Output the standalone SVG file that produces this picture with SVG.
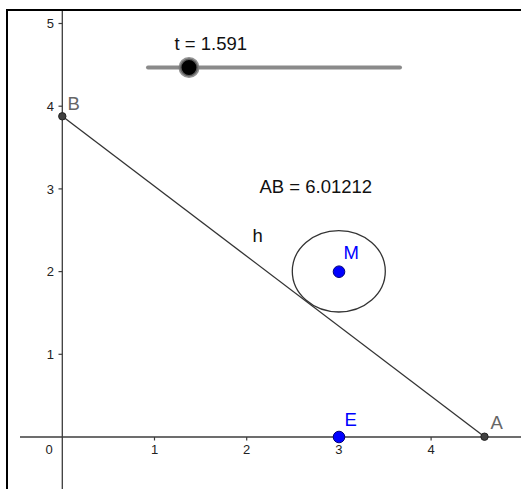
<svg xmlns="http://www.w3.org/2000/svg" width="521" height="489" viewBox="0 0 521 489">
<style>
.ax{stroke:#3c3c3c;stroke-width:1.3;fill:none}
.tk{stroke:#3c3c3c;stroke-width:1.2}
.num{font-family:"Liberation Sans",Arial,sans-serif;font-size:13px;fill:#222}
.lbl{font-family:"Liberation Sans",Arial,sans-serif;font-size:18.5px}
.gray{fill:#666}
.blue{fill:#0000ff}
.blk{fill:#111}
.pt{fill:#404040;stroke:#222;stroke-width:1}
.bpt{fill:#0000ff;stroke:#00007a;stroke-width:1}
.obj{stroke:#333;stroke-width:1.3;fill:none}
</style>
<rect x="0" y="0" width="521" height="489" fill="#ffffff"/>
<g id="frame">
<rect x="6" y="9" width="515" height="2" fill="#000"/>
<rect x="6" y="9" width="2" height="480" fill="#000"/>
</g>
<g id="axes">
<line class="ax" x1="20" y1="437" x2="521" y2="437"/>
<line class="ax" x1="62.3" y1="11" x2="62.3" y2="489"/>
<line class="tk" x1="154.5" y1="437" x2="154.5" y2="440.5"/>
<line class="tk" x1="246.7" y1="437" x2="246.7" y2="440.5"/>
<line class="tk" x1="338.9" y1="437" x2="338.9" y2="440.5"/>
<line class="tk" x1="431.1" y1="437" x2="431.1" y2="440.5"/>
<line class="tk" x1="58.5" y1="354.3" x2="62.3" y2="354.3"/>
<line class="tk" x1="58.5" y1="271.6" x2="62.3" y2="271.6"/>
<line class="tk" x1="58.5" y1="188.9" x2="62.3" y2="188.9"/>
<line class="tk" x1="58.5" y1="106.2" x2="62.3" y2="106.2"/>
<line class="tk" x1="58.5" y1="23.5" x2="62.3" y2="23.5"/>
<text class="num" x="49" y="454" text-anchor="middle">0</text>
<text class="num" x="154.5" y="454" text-anchor="middle">1</text>
<text class="num" x="246.7" y="454" text-anchor="middle">2</text>
<text class="num" x="338.9" y="454" text-anchor="middle">3</text>
<text class="num" x="431.1" y="454" text-anchor="middle">4</text>
<text class="num" x="54" y="359" text-anchor="end">1</text>
<text class="num" x="54" y="276.3" text-anchor="end">2</text>
<text class="num" x="54" y="193.6" text-anchor="end">3</text>
<text class="num" x="54" y="110.9" text-anchor="end">4</text>
<text class="num" x="54" y="28.2" text-anchor="end">5</text>
</g>
<g id="slider">
<line x1="148" y1="67.5" x2="400" y2="67.5" stroke="#8a8a8a" stroke-width="4" stroke-linecap="round"/>
<circle cx="189" cy="67.5" r="9" fill="#000" stroke="#777" stroke-opacity="0.8" stroke-width="3"/>
<text class="lbl blk" x="174.5" y="50">t = 1.591</text>
</g>
<g id="connectors">
<line id="h" class="obj" x1="62.3" y1="116.3" x2="484.5" y2="436.7"/>
</g>
<g id="label-h">
<text class="lbl blk" x="252.5" y="241.7">h</text>
</g>
<g id="circle">
<ellipse class="obj" cx="338.8" cy="271.3" rx="46.5" ry="40.7"/>
</g>
<g id="ab-value">
<text class="lbl blk" x="259.5" y="192.7">AB = 6.01212</text>
</g>
<g id="B">
<circle class="pt" cx="62.3" cy="116.3" r="3.7"/>
<text class="lbl gray" x="67.5" y="110">B</text>
</g>
<g id="A">
<circle class="pt" cx="484.5" cy="436.7" r="3.7"/>
<text class="lbl gray" x="490.5" y="429.3">A</text>
</g>
<g id="E">
<circle class="bpt" cx="339" cy="437" r="5.8"/>
<text class="lbl blue" x="344.5" y="425.7">E</text>
</g>
<g id="M">
<circle class="bpt" cx="339" cy="271.7" r="5.8"/>
<text class="lbl blue" x="343.5" y="258.5">M</text>
</g>
</svg>
